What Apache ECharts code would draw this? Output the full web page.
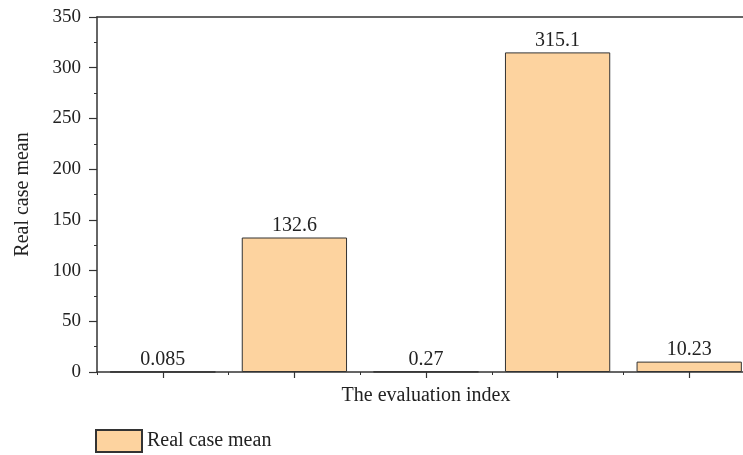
<!DOCTYPE html>
<html>
<head>
<meta charset="utf-8">
<script src="https://cdn.jsdelivr.net/npm/echarts@6/dist/echarts.min.js"></script>
<style>html,body{margin:0;padding:0;background:#fff;}#c{width:743px;height:455px;}</style>
</head>
<body>
<div id="c"></div>
<script>
var categories = ["Index 1", "Index 2", "Index 3", "Index 4", "Index 5"];
var seriesName = "Real case mean";
var values = [0.085, 132.6, 0.27, 315.1, 10.23];
var yTicks = [0, 50, 100, 150, 200, 250, 300, 350];

var FONT = '"Liberation Serif", "DejaVu Serif", serif';
var FS = 20;
var AX = '#333';
var chart = echarts.init(document.getElementById('c'), null, {renderer: 'canvas'});
chart.setOption({
  animation: false,
  textStyle: {fontFamily: FONT},
  legend: {
    left: 90, top: 424, itemWidth: 46, itemHeight: 22, itemGap: 6,
    icon: 'rect',
    textStyle: {fontFamily: FONT, fontSize: FS, color: '#222'},
    data: [seriesName]
  },
  grid: {left: 97, width: 658, top: 17, bottom: 83, containLabel: false, outerBoundsMode: 'none'},
  xAxis: [
    {
      type: 'category', data: categories, position: 'bottom',
      name: 'The evaluation index', nameLocation: 'middle', nameGap: 14,
      nameTextStyle: {fontFamily: FONT, fontSize: FS, color: '#222', verticalAlign: 'top'},
      axisLine: {show: true, lineStyle: {color: AX, width: 1.5}},
      axisTick: {show: true, alignWithLabel: true, length: 6, lineStyle: {color: AX, width: 1.2}},
      axisLabel: {show: false}
    },
    {
      type: 'category', data: categories, position: 'bottom', gridIndex: 0,
      axisLine: {show: false},
      axisTick: {show: true, length: 3, lineStyle: {color: AX, width: 1}},
      axisLabel: {show: false}
    },
    {
      type: 'category', data: categories, position: 'top', gridIndex: 0,
      axisLine: {show: true, lineStyle: {color: AX, width: 1.5}},
      axisTick: {show: false}, axisLabel: {show: false}
    }
  ],
  yAxis: {
    type: 'value', min: yTicks[0], max: yTicks[yTicks.length - 1], interval: 50,
    name: 'Real case mean', nameLocation: 'middle', nameGap: 64,
    nameTextStyle: {fontFamily: FONT, fontSize: FS, color: '#222'},
    axisLine: {show: true, lineStyle: {color: AX, width: 1.5}},
    axisTick: {show: true, length: 8, lineStyle: {color: AX, width: 1.2}},
    minorTick: {show: true, splitNumber: 2, length: 3, lineStyle: {color: AX, width: 1}},
    axisLabel: {fontFamily: FONT, fontSize: 19, color: '#222', margin: 16},
    splitLine: {show: false}
  },
  series: [{
    name: seriesName, type: 'bar', data: values, xAxisIndex: 0,
    barWidth: '80%',
    itemStyle: {color: '#FDD39F', borderColor: '#333', borderWidth: 1},
    label: {show: true, position: 'top', distance: 2, fontFamily: FONT, fontSize: FS, color: '#222',
      formatter: function (p) { return String(values[p.dataIndex]); }}
  }]
});
</script>
</body>
</html>
